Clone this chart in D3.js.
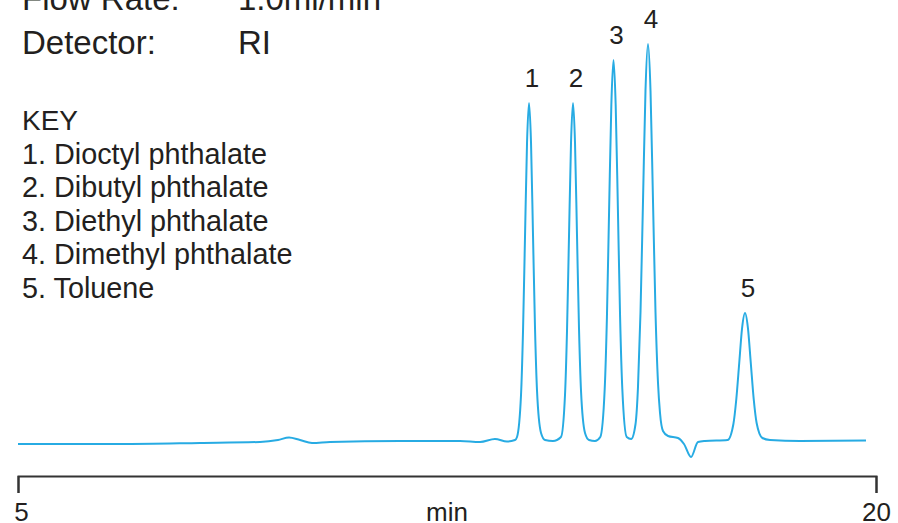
<!DOCTYPE html>
<html>
<head>
<meta charset="utf-8">
<script src="https://cdn.jsdelivr.net/npm/d3@7"></script>
<style>
  body { margin: 0; background: #fff; }
  text { font-family: "Liberation Sans", Arial, Helvetica, sans-serif; fill: #231f20; }
</style>
</head>
<body>
<div id="chart"></div>
<script>
'use strict';

// run conditions (top of the figure is cropped in the source)
var conditionNames = ['Flow Rate:', 'Detector:'];
var conditionValues = ['1.0ml/min', 'RI'];

var keyTitle = 'KEY';
var compounds = ['Dioctyl phthalate', 'Dibutyl phthalate', 'Diethyl phthalate', 'Dimethyl phthalate', 'Toluene'];

// peak apexes
var peakLabels = ['1', '2', '3', '4', '5'];
var peakTimes = [13.934, 14.703, 15.411, 16.014, 17.710];
var peakHeights = [338, 338, 381, 397, 128];

// detector trace (min, signal)
var traceTime = [
  5.000, 6.783, 8.182, 9.231, 9.545, 9.738, 9.930, 10.140, 10.455, 11.678,
  12.727, 13.077, 13.339, 13.549, 13.689,
  13.724, 13.794, 13.829, 13.864, 13.899, 13.934, 13.969, 14.004, 14.039, 14.074, 14.144, 14.214,
  14.353,
  14.493, 14.563, 14.598, 14.633, 14.668, 14.703, 14.738, 14.773, 14.808, 14.843, 14.913, 14.983,
  15.087,
  15.180, 15.257, 15.296, 15.334, 15.373, 15.411, 15.449, 15.488, 15.526, 15.565, 15.642,
  15.720,
  15.796, 15.839, 15.883, 15.927, 15.970, 16.014, 16.058, 16.101, 16.145, 16.189, 16.224, 16.276,
  16.364, 16.538, 16.643, 16.766, 16.888, 17.010,
  17.406, 17.507, 17.558, 17.609, 17.659, 17.710, 17.761, 17.811, 17.862, 17.913, 18.014,
  18.147, 18.671, 19.825
];
var traceSignal = [
  -3, -3, -2, -1, 1, 3.5, 1, -2, -1, 0,
  0, -1, 2, -0.5, 1,
  4, 46, 110, 205, 298, 338, 298, 205, 112, 50, 8, 1,
  0,
  4, 46, 110, 205, 298, 338, 298, 205, 112, 50, 8, 1,
  0,
  4, 52, 124, 231, 336, 381, 336, 231, 124, 52, 4,
  2,
  17, 54, 129, 241, 350, 397, 350, 241, 129, 58, 28, 10,
  5, 3, -3, -16, -1, 0,
  1, 17, 42, 78, 113, 128, 113, 78, 42, 18, 3,
  1, 0, 0.5
];

var axisTicks = [5, 20];
var axisTitle = 'min';

var width = 898, height = 523;

var svg = d3.select('#chart')
    .append('svg')
    .attr('width', width)
    .attr('height', height);

var x = d3.scaleLinear().domain([5, 20]).range([18, 876]);
var y = d3.scaleLinear().domain([0, 400]).range([441, 41]);

// header text
conditionNames.forEach(function (name, i) {
    svg.append('text').attr('x', 22).attr('y', 10 + i * 44)
        .style('font-size', '33px').text(name);
    svg.append('text').attr('x', 238).attr('y', 10 + i * 44)
        .style('font-size', '33px').text(conditionValues[i]);
});

// key
svg.append('text').attr('x', 22).attr('y', 130)
    .style('font-size', '28px').text(keyTitle);

svg.selectAll('.key')
    .data(compounds)
    .enter()
    .append('text')
    .attr('class', 'key')
    .attr('x', 22)
    .attr('y', function (d, i) { return 163.5 + i * 33.5; })
    .style('font-size', '28.8px')
    .text(function (d, i) { return (i + 1) + '. ' + d; });

// trace
var line = d3.line()
    .x(function (d) { return x(d[0]); })
    .y(function (d) { return y(d[1]); })
    .curve(d3.curveMonotoneX);

svg.append('path')
    .datum(d3.zip(traceTime, traceSignal))
    .attr('fill', 'none')
    .attr('stroke', '#27abe3')
    .attr('stroke-width', 2)
    .attr('stroke-linejoin', 'round')
    .attr('d', line);

// peak numbers
svg.selectAll('.peak')
    .data(peakLabels)
    .enter()
    .append('text')
    .attr('class', 'peak')
    .attr('x', function (d, i) { return x(peakTimes[i]) + 3; })
    .attr('y', function (d, i) { return y(peakHeights[i]) - 16; })
    .attr('text-anchor', 'middle')
    .style('font-size', '26px')
    .text(function (d) { return d; });

// time axis
var axis = svg.append('g')
    .attr('transform', 'translate(0,476)')
    .call(d3.axisBottom(x).tickValues(axisTicks).tickSize(17).tickPadding(10));

axis.selectAll('path, line')
    .attr('stroke', '#333')
    .attr('stroke-width', 2);
axis.selectAll('text')
    .style('font-size', '26px')
    .style('font-family', '"Liberation Sans", Arial, sans-serif')
    .attr('fill', '#231f20')
    .attr('dx', function (d) { return d === 5 ? 3 : 0; });

svg.append('text')
    .attr('x', 447)
    .attr('y', 521)
    .attr('text-anchor', 'middle')
    .style('font-size', '26px')
    .text(axisTitle);
</script>
</body>
</html>
